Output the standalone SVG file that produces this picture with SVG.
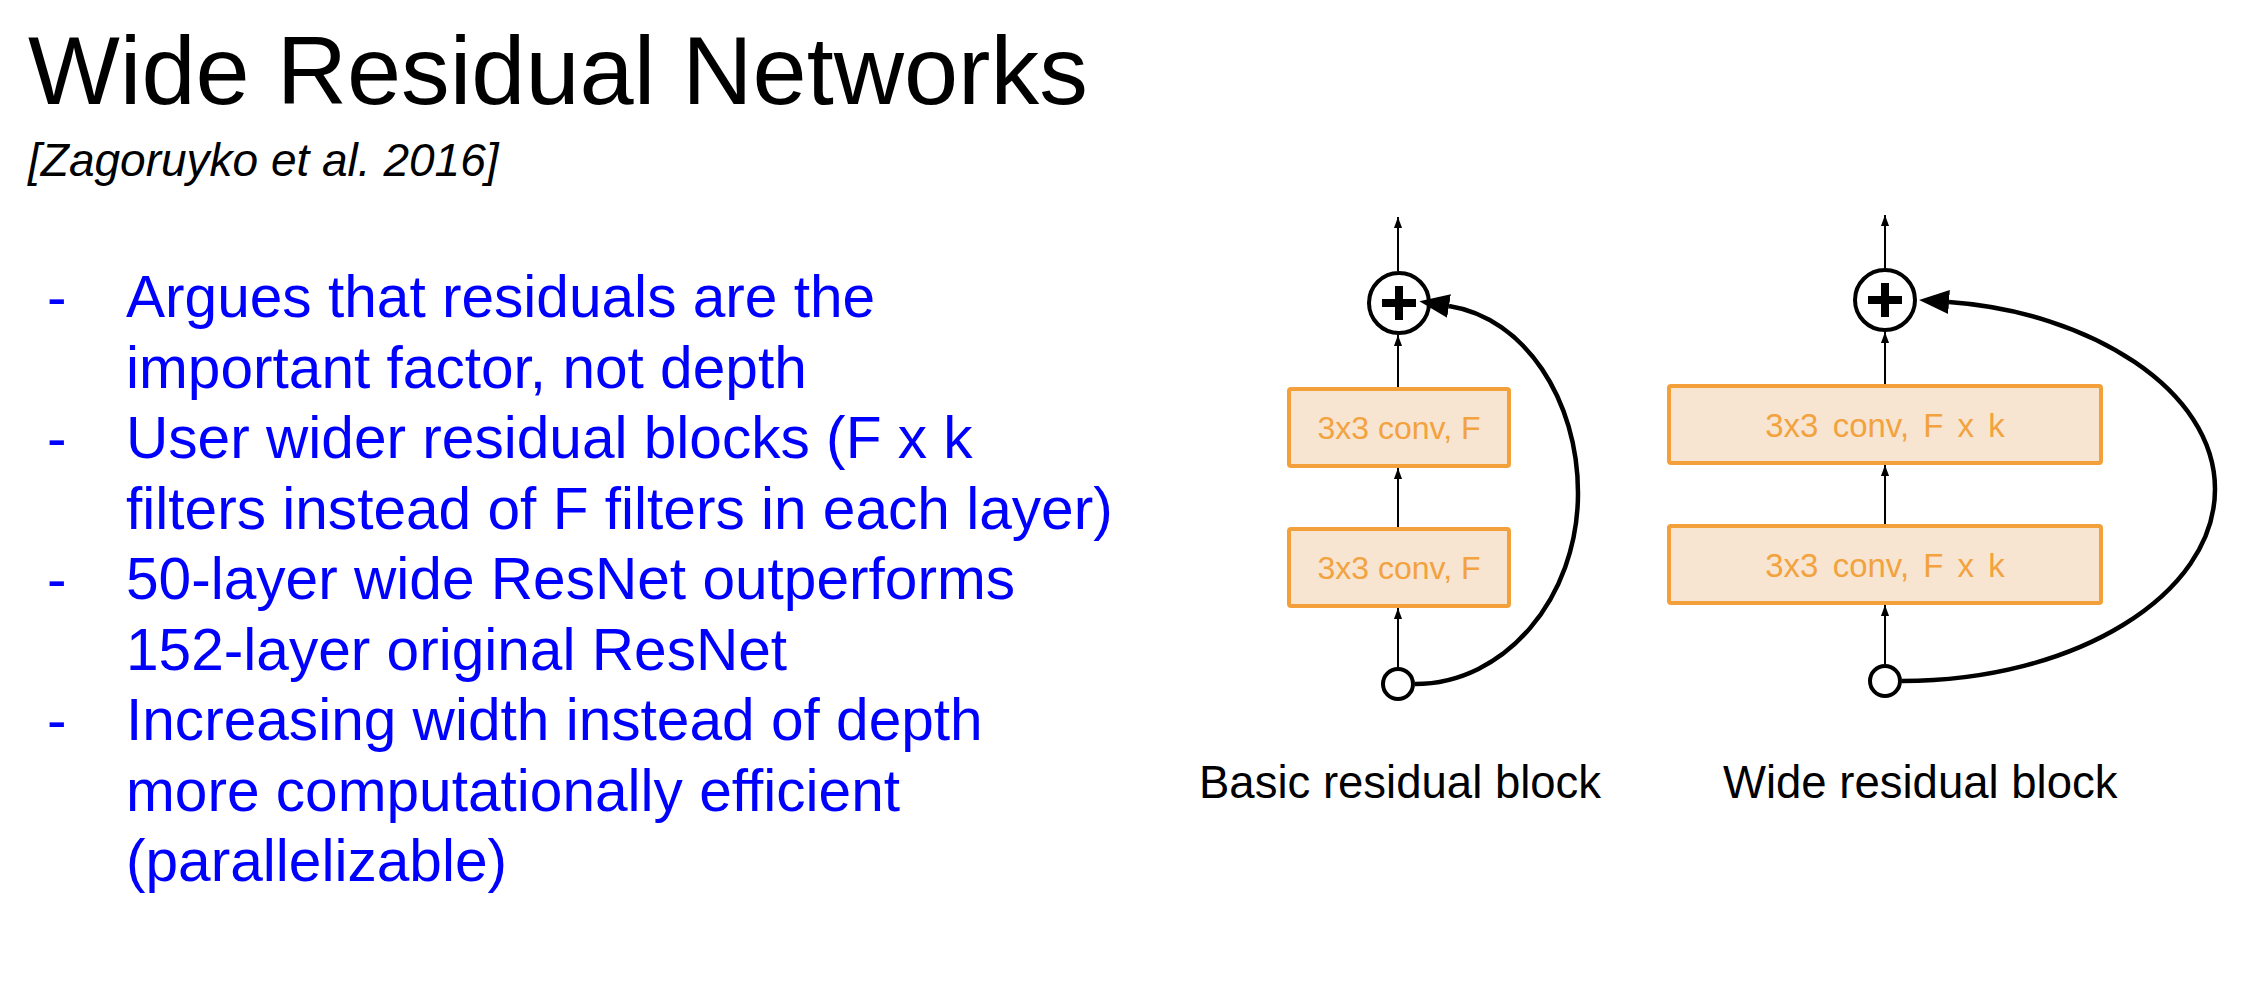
<svg xmlns="http://www.w3.org/2000/svg" width="2266" height="996" viewBox="0 0 2266 996">
  <style>
    .title { font-family: "Liberation Sans", Arial, sans-serif; font-size: 97.3px; fill: #000; }
    .cite { font-family: "Liberation Sans", Arial, sans-serif; font-size: 46px; font-style: italic; fill: #000; }
    .bullet { font-family: "Liberation Sans", Arial, sans-serif; font-size: 58.6px; fill: #0000ff; }
    .caption { font-family: "Liberation Sans", Arial, sans-serif; font-size: 45.5px; fill: #000; }
    .box rect { fill: #f8e5d1; stroke: #f3a03b; stroke-width: 4; }
    .box text { font-family: "Liberation Sans", Arial, sans-serif; font-size: 32px; fill: #f2a23f; text-anchor: middle; }
    .wide text { font-size: 33px; word-spacing: 5px; }
    .plus circle { fill: #fff; stroke: #000; stroke-width: 4; }
    .plus path { stroke: #000; stroke-width: 8; fill: none; }
    .inp circle { fill: #fff; stroke: #000; stroke-width: 4; }
    .thin { stroke: #000; stroke-width: 2; fill: none; marker-end: url(#small); }
    .skip { stroke: #000; stroke-width: 4.5; fill: none; marker-end: url(#big); }
  </style>
  <defs>
    <marker id="small" markerUnits="userSpaceOnUse" markerWidth="11" markerHeight="16" refX="15" refY="5.5" viewBox="0 0 15 11" orient="auto">
      <path d="M0,0 L15,5.5 L0,11 z" fill="#000"/>
    </marker>
    <marker id="big" markerUnits="userSpaceOnUse" markerWidth="30" markerHeight="24" refX="0" refY="12" viewBox="0 0 30 24" orient="auto">
      <path d="M0,0 L30,12 L0,24 z" fill="#000"/>
    </marker>
  </defs>

  <g id="title">
    <text class="title" x="28" y="104">Wide Residual Networks</text>
    <text class="cite" x="28" y="176">[Zagoruyko et al. 2016]</text>
  </g>

  <g id="bullets">
    <text class="bullet" x="47" y="317">-</text>
    <text class="bullet" x="126" y="317">Argues that residuals are the</text>
    <text class="bullet" x="126" y="387.5">important factor, not depth</text>
    <text class="bullet" x="47" y="458">-</text>
    <text class="bullet" x="126" y="458">User wider residual blocks (F x k</text>
    <text class="bullet" x="126" y="528.5">filters instead of F filters in each layer)</text>
    <text class="bullet" x="47" y="599">-</text>
    <text class="bullet" x="126" y="599">50-layer wide ResNet outperforms</text>
    <text class="bullet" x="126" y="669.5">152-layer original ResNet</text>
    <text class="bullet" x="47" y="740">-</text>
    <text class="bullet" x="126" y="740">Increasing width instead of depth</text>
    <text class="bullet" x="126" y="810.5">more computationally efficient</text>
    <text class="bullet" x="126" y="881">(parallelizable)</text>
  </g>

  <!-- Basic residual block -->
  <g id="basic-conv1" class="box">
    <rect x="1289" y="529" width="220" height="77" rx="2"/>
    <text x="1399" y="579">3x3 conv, F</text>
  </g>
  <g id="basic-conv2" class="box">
    <rect x="1289" y="389" width="220" height="77" rx="2"/>
    <text x="1399" y="439">3x3 conv, F</text>
  </g>
  <g id="basic-add" class="plus">
    <circle cx="1399" cy="303" r="30"/>
    <path d="M1382,303 H1416 M1399,286 V320"/>
  </g>
  <g id="basic-input" class="inp">
    <circle cx="1398" cy="684" r="15"/>
  </g>
  <g id="basic-caption">
    <text class="caption" x="1199" y="798">Basic residual block</text>
  </g>

  <!-- Wide residual block -->
  <g id="wide-conv1" class="box wide">
    <rect x="1669" y="526" width="432" height="77" rx="2"/>
    <text x="1885" y="577">3x3 conv, F x k</text>
  </g>
  <g id="wide-conv2" class="box wide">
    <rect x="1669" y="386" width="432" height="77" rx="2"/>
    <text x="1885" y="437">3x3 conv, F x k</text>
  </g>
  <g id="wide-add" class="plus">
    <circle cx="1885" cy="300" r="30"/>
    <path d="M1868,300 H1902 M1885,283 V317"/>
  </g>
  <g id="wide-input" class="inp">
    <circle cx="1885" cy="681" r="15"/>
  </g>
  <g id="wide-caption">
    <text class="caption" x="1723" y="798">Wide residual block</text>
  </g>

  <g id="connectors">
    <!-- basic -->
    <line class="thin" x1="1398" y1="271" x2="1398" y2="217"/>
    <line class="thin" x1="1398" y1="387" x2="1398" y2="335"/>
    <line class="thin" x1="1398" y1="527" x2="1398" y2="468"/>
    <line class="thin" x1="1398" y1="667" x2="1398" y2="608"/>
    <path class="skip" d="M1415,684 C1505,684 1578,598 1578,493 C1578,400 1525,318 1449,306"/>
    <!-- wide -->
    <line class="thin" x1="1885" y1="268" x2="1885" y2="215"/>
    <line class="thin" x1="1885" y1="384" x2="1885" y2="332"/>
    <line class="thin" x1="1885" y1="524" x2="1885" y2="465"/>
    <line class="thin" x1="1885" y1="664" x2="1885" y2="605"/>
    <path class="skip" d="M1902,681 C2075,681 2215,595 2215,489 C2215,390 2090,312 1949,302"/>
  </g>
</svg>
